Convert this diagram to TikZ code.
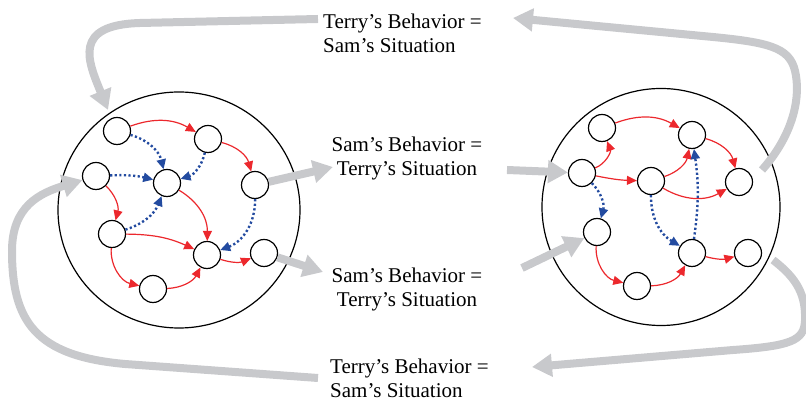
\documentclass[tikz,border=0pt]{standalone}
\usepackage{fontspec}
\setmainfont{Liberation Serif}
\usetikzlibrary{arrows.meta}
\definecolor{redE}{RGB}{236,40,45}
\definecolor{blueE}{RGB}{35,75,160}
\definecolor{grayA}{RGB}{200,201,204}
\begin{document}
\begin{tikzpicture}[x=1pt,y=1pt,
  dot/.style={circle,draw,line width=1.2pt,minimum size=27pt,inner sep=0pt},
  big/.style={draw,line width=1.2pt},
  rd/.style={draw=redE,line width=1.2pt,-{Triangle[length=10pt,width=9pt]}},
  bd/.style={draw=blueE,line width=2.4pt,dash pattern=on 2.2pt off 2.4pt,-{Triangle[length=10pt,width=9pt]}},
  ga/.style={draw=grayA,line width=8pt,-{Triangle[length=20pt,width=22pt]}},
  lbl/.style={font=\fontsize{21}{24}\selectfont,inner sep=0pt}]
\useasboundingbox (0,0) rectangle (806,401);

% big circles
\draw[big] (179,191) ellipse [x radius=121, y radius=118];
\draw[big] (661,194) ellipse [x radius=119, y radius=118.5];

% left circle nodes
\node[dot] (A) at (117,270) {};
\node[dot] (B) at (208,262) {};
\node[dot] (C) at (167,218) {};
\node[dot] (D) at (96,225) {};
\node[dot] (E) at (255,216) {};
\node[dot] (F) at (112,167) {};
\node[dot] (G) at (207,146) {};
\node[dot] (H) at (264,148) {};
\node[dot] (I) at (153,112) {};

% right circle nodes
\node[dot] (a) at (602,273) {};
\node[dot] (b) at (692,266) {};
\node[dot] (c) at (582,228) {};
\node[dot] (d) at (651,220) {};
\node[dot] (e) at (739,219) {};
\node[dot] (f) at (597,169) {};
\node[dot] (g) at (692,148) {};
\node[dot] (h) at (748,148) {};
\node[dot] (i) at (637,115) {};

% left edges
\draw[rd] (A) to[bend left=25] (B);
\draw[rd] (B) to[bend left=30] (E);
\draw[rd] (D) to[bend left=30] (F);
\draw[rd] (C) to[bend left=30] (G);
\draw[rd] (F) to[bend left=12] (G);
\draw[rd] (F) to[bend right=40] (I);
\draw[rd] (I) to[bend right=30] (G);
\draw[rd] (G) to[bend right=20] (H);
\draw[bd] (A) to[bend left=30] (C);
\draw[bd] (B) to[bend left=30] (C);
\draw[bd] (D) to[bend left=8] (C);
\draw[bd] (F) to[bend right=25] (C);
\draw[bd] (E) to[bend left=35] (G);

% right edges
\draw[rd] (a) to[bend left=25] (b);
\draw[rd] (b) to[bend left=30] (e);
\draw[rd] (c) to[bend right=45] (a);
\draw[rd] (c) to[bend right=5] (d);
\draw[rd] (d) to[bend right=30] (b);
\draw[rd] (d) to[bend right=30] (e);
\draw[rd] (f) to[bend right=40] (i);
\draw[rd] (i) to[bend right=30] (g);
\draw[rd] (g) to[bend right=15] (h);
\draw[bd] (c) to[bend left=30] (f);
\draw[bd] (d) to[bend right=30] (g);
\draw[bd] (g) to[bend right=8] (b);

% labels
\node[lbl,align=left,anchor=north west] (t1) at (323,387) {Terry’s Behavior =\\Sam’s Situation};
\node[lbl,align=center,anchor=north] (t2) at (407,264) {Sam’s Behavior =\\Terry’s Situation};
\node[lbl,align=center,anchor=north] (t3) at (407,133) {Sam’s Behavior =\\Terry’s Situation};
\node[lbl,align=left,anchor=north west] (t4) at (330,42) {Terry’s Behavior =\\Sam’s Situation};

% arrow end coordinates
\coordinate (g1s) at (318,382);
\coordinate (g1e) at (108,291);
\coordinate (g2s) at (762,231);
\coordinate (g2e) at (513,383);
\coordinate (g3s) at (318,23);
\coordinate (g4s) at (773,141);
\coordinate (g4e) at (532,34);
\coordinate (m1e) at (333,234);
\coordinate (m2s) at (507,231);
\coordinate (m3e) at (323,129);
\coordinate (m4s) at (522,133);

% gray arrows
\draw[ga] (g1s) -- (140,378) .. controls (72,376) and (88,340) .. (g1e);
\draw[ga] (g2s) .. controls (792,265) and (800,300) .. (796,325)
  .. controls (792,352) and (775,358) .. (713,364) -- (g2e);
\draw[ga] (g3s) -- (125,37) .. controls (35,45) and (12,80) .. (12,150)
  .. controls (12,195) and (40,208) .. (D);
\draw[ga] (g4s) .. controls (798,122) and (806,105) .. (805,80)
  .. controls (804,60) and (790,55) .. (733,51) -- (g4e);
\draw[ga] (E) -- (m1e);
\draw[ga] (m2s) -- (c);
\draw[ga] (H) -- (m3e);
\draw[ga] (m4s) -- (f);
\end{tikzpicture}
\end{document}
